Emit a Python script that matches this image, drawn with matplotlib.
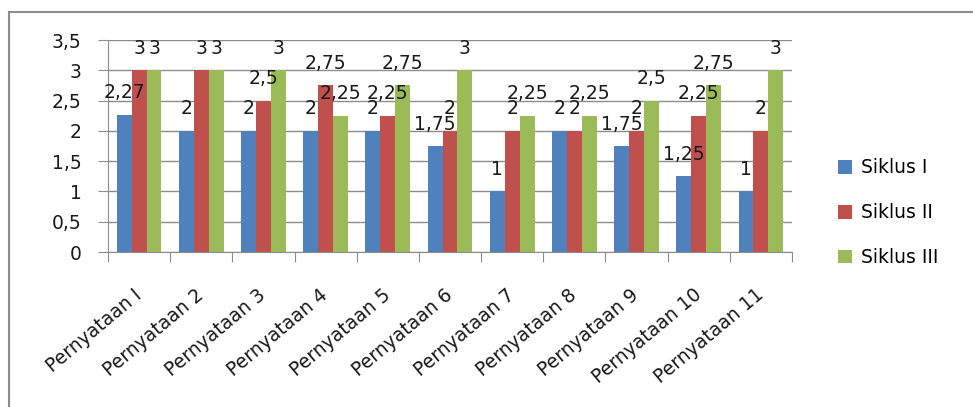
import numpy as np
import matplotlib.pyplot as plt
from matplotlib.lines import Line2D
from matplotlib.transforms import ScaledTranslation

plt.rcParams['font.family'] = ['DejaVu Sans']

categories = ['Pernyataan I', 'Pernyataan 2', 'Pernyataan 3', 'Pernyataan 4',
              'Pernyataan 5', 'Pernyataan 6', 'Pernyataan 7', 'Pernyataan 8',
              'Pernyataan 9', 'Pernyataan 10', 'Pernyataan 11']
siklus1 = [2.27, 2, 2, 2, 2, 1.75, 1, 2, 1.75, 1.25, 1]
siklus2 = [3, 3, 2.5, 2.75, 2.25, 2, 2, 2, 2, 2.25, 2]
siklus3 = [3, 3, 3, 2.25, 2.75, 3, 2.25, 2.25, 2.5, 2.75, 3]
series_names = ['Siklus I', 'Siklus II', 'Siklus III']
colors = ['#4F81BD', '#C0504D', '#9BBB59']
txt = '#1a1a1a'
fs = 13.5

fig = plt.figure(figsize=(9.73, 4.07), dpi=100)
ax = fig.add_axes([108/973, 1-252/407, (792-108)/973, 212/407])

# chart border, only top and left edges show in the reference
bx, by = 9/973, 1 - 12/407
fig.lines.append(Line2D([bx, 1.0], [by, by], transform=fig.transFigure, color='#8c8c8c', lw=1.5))
fig.lines.append(Line2D([bx, bx], [0, by], transform=fig.transFigure, color='#8c8c8c', lw=1.5))

x = np.arange(len(categories))
w = 0.24
for i, (vals, name, c) in enumerate(zip([siklus1, siklus2, siklus3], series_names, colors)):
    pos = x + (i - 1) * w
    ax.bar(pos, vals, w, color=c, label=name, zorder=2)
    for px, v in zip(pos, vals):
        lab = ('%g' % v).replace('.', ',')
        ax.annotate(lab, (px, v), xytext=(0, 22), textcoords='offset pixels',
                    ha='center', va='center', fontsize=fs, color=txt)

ax.set_xlim(-0.5, len(categories) - 0.5)
ax.set_ylim(0, 3.5)
yt = np.arange(0, 3.51, 0.5)
ax.set_yticks(yt)
ax.set_yticklabels([('%g' % t).replace('.', ',') for t in yt], fontsize=fs, color=txt)
ax.yaxis.grid(True, color='#8c8c8c', lw=1)
ax.set_axisbelow(True)

ax.set_xticks(np.arange(len(categories) + 1) - 0.5)
ax.set_xticklabels([])
ax.set_xticks(x, minor=True)
ax.set_xticklabels(categories, minor=True, rotation=40, ha='right',
                   rotation_mode='anchor', fontsize=fs, color=txt)
ax.tick_params(axis='x', which='minor', length=0, pad=24)
ax.tick_params(axis='x', which='major', length=7, color='#8c8c8c', direction='out')
ax.tick_params(axis='y', length=7, color='#8c8c8c', pad=12)
shift = ScaledTranslation(-6/100, 0, fig.dpi_scale_trans)
for lab in ax.get_xticklabels(minor=True):
    lab.set_transform(lab.get_transform() + shift)

for s in ['top', 'right']:
    ax.spines[s].set_visible(False)
for s in ['left', 'bottom']:
    ax.spines[s].set_color('#8c8c8c')

ax.legend(loc='center left', bbox_to_anchor=(1.042, 0.185), frameon=False,
          fontsize=fs, handlelength=0.75, handleheight=0.75, labelspacing=1.38,
          handletextpad=0.5)

fig.savefig('out.png', dpi=100)
